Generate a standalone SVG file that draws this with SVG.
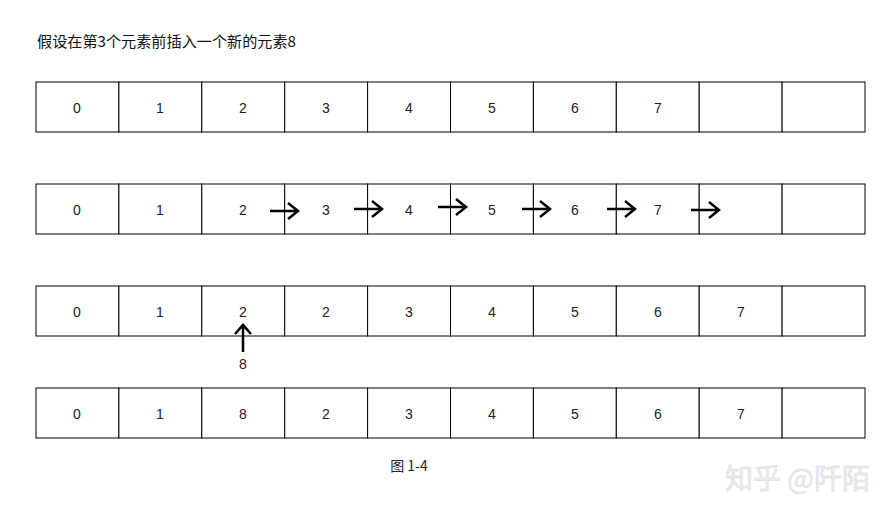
<svg xmlns="http://www.w3.org/2000/svg" width="888" height="515" viewBox="0 0 888 515">
<style>
.cell{fill:#fff;stroke:#000;stroke-width:1}
.t{font-family:"Liberation Sans","Noto Sans CJK SC",sans-serif;font-size:14px;fill:#222;text-anchor:middle;dominant-baseline:central}
.title{font-family:"Noto Sans CJK SC","Liberation Sans",sans-serif;font-size:15px;fill:#111}
.arr{stroke:#000;stroke-width:2.5;fill:none;stroke-linecap:butt}
</style>
<defs>
<g id="cells">
<rect class="cell" x="36" y="0" width="82.9" height="50"/>
<rect class="cell" x="118.9" y="0" width="82.9" height="50"/>
<rect class="cell" x="201.8" y="0" width="82.9" height="50"/>
<rect class="cell" x="284.7" y="0" width="82.9" height="50"/>
<rect class="cell" x="367.6" y="0" width="82.9" height="50"/>
<rect class="cell" x="450.5" y="0" width="82.9" height="50"/>
<rect class="cell" x="533.4" y="0" width="82.9" height="50"/>
<rect class="cell" x="616.3" y="0" width="82.9" height="50"/>
<rect class="cell" x="699.2" y="0" width="82.9" height="50"/>
<rect class="cell" x="782.1" y="0" width="82.9" height="50"/>
</g>
<path id="rarrow" class="arr" d="M0,0 H28 M18,-8 L28,0 L18,8"/>
</defs>
<rect width="888" height="515" fill="#fff"/>
<text class="title" x="37" y="47" textLength="259" lengthAdjust="spacingAndGlyphs">假设在第3个元素前插入一个新的元素8</text>

<g id="row1">
<use href="#cells" y="82"/>
<text class="t" x="77" y="108">0</text>
<text class="t" x="160" y="108">1</text>
<text class="t" x="243" y="108">2</text>
<text class="t" x="326" y="108">3</text>
<text class="t" x="409" y="108">4</text>
<text class="t" x="492" y="108">5</text>
<text class="t" x="575" y="108">6</text>
<text class="t" x="658" y="108">7</text>
</g>

<g id="row2">
<use href="#cells" y="184"/>
<text class="t" x="77" y="210">0</text>
<text class="t" x="160" y="210">1</text>
<text class="t" x="243" y="210">2</text>
<text class="t" x="326" y="210">3</text>
<text class="t" x="409" y="210">4</text>
<text class="t" x="492" y="210">5</text>
<text class="t" x="575" y="210">6</text>
<text class="t" x="658" y="210">7</text>
</g>

<g id="row3">
<use href="#cells" y="286"/>
<text class="t" x="77" y="312">0</text>
<text class="t" x="160" y="312">1</text>
<text class="t" x="243" y="312">2</text>
<text class="t" x="326" y="312">2</text>
<text class="t" x="409" y="312">3</text>
<text class="t" x="492" y="312">4</text>
<text class="t" x="575" y="312">5</text>
<text class="t" x="658" y="312">6</text>
<text class="t" x="741" y="312">7</text>
<text class="t" x="243" y="364">8</text>
</g>

<g id="row4">
<use href="#cells" y="388"/>
<text class="t" x="77" y="414">0</text>
<text class="t" x="160" y="414">1</text>
<text class="t" x="243" y="414">8</text>
<text class="t" x="326" y="414">2</text>
<text class="t" x="409" y="414">3</text>
<text class="t" x="492" y="414">4</text>
<text class="t" x="575" y="414">5</text>
<text class="t" x="658" y="414">6</text>
<text class="t" x="741" y="414">7</text>
</g>

<g id="connectors">
<use href="#rarrow" x="270" y="211"/>
<use href="#rarrow" x="354" y="209"/>
<use href="#rarrow" x="438" y="207"/>
<use href="#rarrow" x="522" y="209"/>
<use href="#rarrow" x="607" y="209"/>
<use href="#rarrow" x="691" y="210"/>
<path class="arr" d="M243,352 V325 M235,334 L243,325 L251,334"/>
</g>

<text x="409" y="471" font-family="Noto Sans CJK SC, Liberation Sans, sans-serif" font-size="14" fill="#222" text-anchor="middle">图 1-4</text>
<text x="725" y="489" font-family="Noto Sans CJK SC, sans-serif" font-size="28" fill="#ececec" stroke="#d6d6d6" stroke-width="0.5" textLength="145" lengthAdjust="spacingAndGlyphs">知乎 @阡陌</text>
</svg>
